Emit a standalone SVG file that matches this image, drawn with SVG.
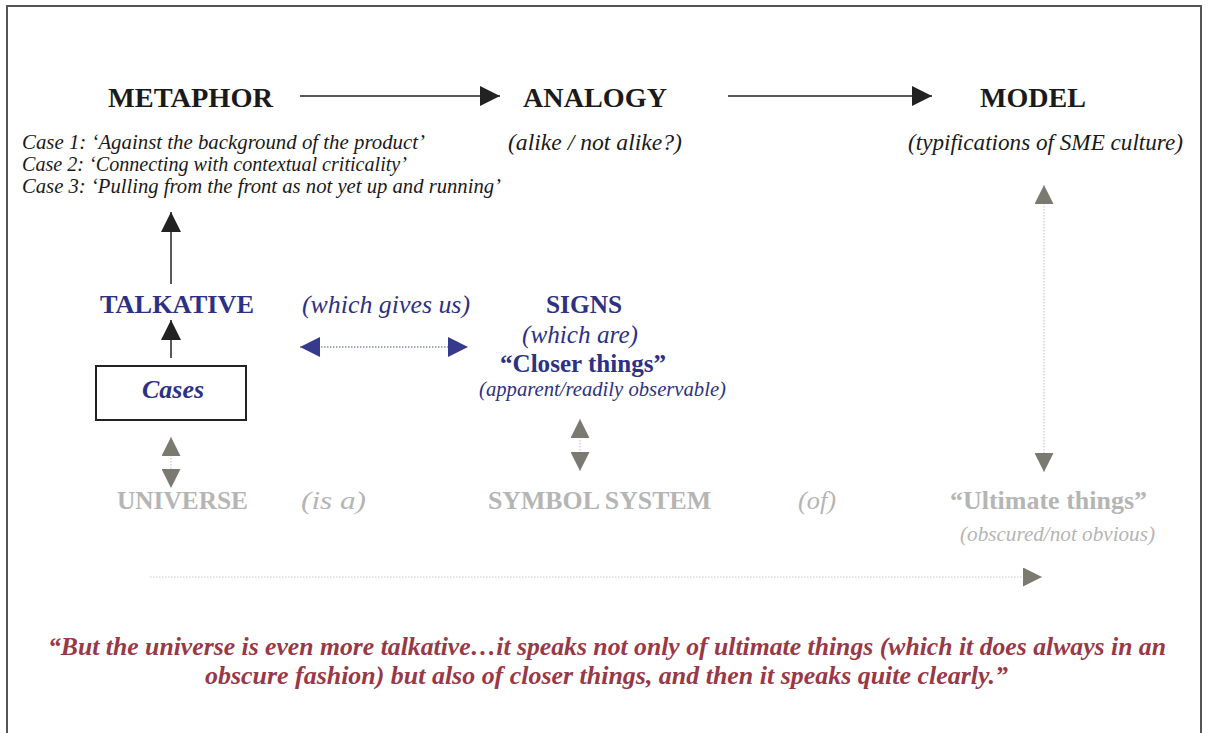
<svg xmlns="http://www.w3.org/2000/svg" width="1210" height="733" viewBox="0 0 1210 733">
  <style>
    text { font-family: "Liberation Serif", "Times New Roman", serif; }
    .head { font-size: 28px; font-weight: bold; fill: #1a1a1a; }
    .case { font-size: 21px; font-style: italic; fill: #1a1a1a; }
    .sub { font-size: 23px; font-style: italic; fill: #1a1a1a; }
    .navy { fill: #2d3184; }
    .nb { font-size: 26px; font-weight: bold; }
    .ni { font-size: 26px; font-style: italic; }
    .grey { fill: #b5b5b5; }
    .gb { font-size: 26px; font-weight: bold; }
    .gi { font-size: 25px; font-style: italic; }
    .quote { font-size: 26px; font-weight: bold; font-style: italic; fill: #983848; }
    .solid { stroke: #222; stroke-width: 1.5; fill: none; }
    .dotnavy { stroke: #4a4f9a; stroke-width: 1.2; stroke-dasharray: 1.5 1.5; fill: none; }
    .dotgrey { stroke: #c8c8c8; stroke-width: 1.2; stroke-dasharray: 1.5 1.5; fill: none; }
  </style>
  <defs>
    <marker id="ahDark" viewBox="0 0 10 10" refX="10" refY="5" markerWidth="20" markerHeight="20" markerUnits="userSpaceOnUse" orient="auto">
      <path d="M0,0 L10,5 L0,10 Z" fill="#222"/>
    </marker>
    <marker id="ahNavy" viewBox="0 0 10 10" refX="10" refY="5" markerWidth="20" markerHeight="20" markerUnits="userSpaceOnUse" orient="auto-start-reverse">
      <path d="M0,0 L10,5 L0,10 Z" fill="#353a8c"/>
    </marker>
    <marker id="ahGrey" viewBox="0 0 10 10" refX="10" refY="5" markerWidth="19" markerHeight="19" markerUnits="userSpaceOnUse" orient="auto-start-reverse">
      <path d="M0,0 L10,5 L0,10 Z" fill="#7a7a70"/>
    </marker>
  </defs>

  <rect x="0" y="0" width="1210" height="733" fill="#ffffff"/>
  <!-- outer frame, open at the bottom edge -->
  <rect x="7" y="6" width="1194" height="740" fill="none" stroke="#555" stroke-width="2"/>

  <g id="connectors">
    <line class="solid" x1="300" y1="96" x2="500" y2="96" marker-end="url(#ahDark)"/>
    <line class="solid" x1="728" y1="96" x2="932" y2="96" marker-end="url(#ahDark)"/>
    <line class="solid" x1="171" y1="284" x2="171" y2="212" stroke-width="1" marker-end="url(#ahDark)"/>
    <line class="solid" x1="171" y1="358" x2="171" y2="320" stroke-width="2" marker-end="url(#ahDark)"/>
    <line class="dotnavy" x1="300" y1="347" x2="468" y2="347" marker-start="url(#ahNavy)" marker-end="url(#ahNavy)"/>
    <line class="dotgrey" x1="171" y1="437" x2="171" y2="488" marker-start="url(#ahGrey)" marker-end="url(#ahGrey)"/>
    <line class="dotgrey" x1="580" y1="419" x2="580" y2="471" marker-start="url(#ahGrey)" marker-end="url(#ahGrey)"/>
    <line class="dotgrey" x1="1044" y1="185" x2="1044" y2="472" marker-start="url(#ahGrey)" marker-end="url(#ahGrey)"/>
    <line class="dotgrey" x1="150" y1="577" x2="1042" y2="577" marker-end="url(#ahGrey)"/>
  </g>

  <g id="metaphor">
    <text class="head" x="108" y="107" textLength="165" lengthAdjust="spacingAndGlyphs">METAPHOR</text>
    <text class="case" x="22" y="149" textLength="403" lengthAdjust="spacingAndGlyphs">Case 1:  ‘Against the background of the product’</text>
    <text class="case" x="22" y="171" textLength="385" lengthAdjust="spacingAndGlyphs">Case 2:  ‘Connecting with contextual criticality’</text>
    <text class="case" x="22" y="193" textLength="479" lengthAdjust="spacingAndGlyphs">Case 3:  ‘Pulling from the front as not yet up and running’</text>
  </g>

  <g id="analogy">
    <text class="head" x="523" y="107" textLength="144" lengthAdjust="spacingAndGlyphs">ANALOGY</text>
    <text class="sub" x="508" y="150" textLength="174" lengthAdjust="spacingAndGlyphs">(alike / not alike?)</text>
  </g>

  <g id="model">
    <text class="head" x="980" y="107" textLength="106" lengthAdjust="spacingAndGlyphs">MODEL</text>
    <text class="sub" x="908" y="150" textLength="275" lengthAdjust="spacingAndGlyphs">(typifications of SME culture)</text>
  </g>

  <g id="talkative">
    <text class="navy nb" x="100" y="313" textLength="154" lengthAdjust="spacingAndGlyphs">TALKATIVE</text>
  </g>

  <g id="gives">
    <text class="navy ni" x="302" y="313" textLength="168" lengthAdjust="spacingAndGlyphs">(which gives us)</text>
  </g>

  <g id="signs">
    <text class="navy nb" x="546" y="313" textLength="76" lengthAdjust="spacingAndGlyphs">SIGNS</text>
    <text class="navy ni" x="522" y="343" textLength="116" lengthAdjust="spacingAndGlyphs">(which are)</text>
    <text class="navy nb" x="500" y="372" textLength="166" lengthAdjust="spacingAndGlyphs">“Closer things”</text>
    <text class="navy" x="479" y="396" font-size="20" font-style="italic" textLength="247" lengthAdjust="spacingAndGlyphs">(apparent/readily observable)</text>
  </g>

  <g id="cases">
    <rect x="96" y="366" width="150" height="54" fill="#fff" stroke="#222" stroke-width="2"/>
    <text class="navy" x="142" y="398" font-size="26" font-weight="bold" font-style="italic" textLength="62" lengthAdjust="spacingAndGlyphs">Cases</text>
  </g>

  <g id="universe">
    <text class="grey gb" x="117" y="509" textLength="131" lengthAdjust="spacingAndGlyphs">UNIVERSE</text>
  </g>
  <g id="is-a">
    <text class="grey gi" x="301" y="509" textLength="65" lengthAdjust="spacingAndGlyphs">(is a)</text>
  </g>
  <g id="symbol-system">
    <text class="grey gb" x="488" y="509" textLength="223" lengthAdjust="spacingAndGlyphs">SYMBOL SYSTEM</text>
  </g>
  <g id="of">
    <text class="grey gi" x="798" y="509" textLength="38" lengthAdjust="spacingAndGlyphs">(of)</text>
  </g>
  <g id="ultimate">
    <text class="grey gb" x="950" y="509" textLength="197" lengthAdjust="spacingAndGlyphs">“Ultimate things”</text>
    <text class="grey" x="960" y="541" font-size="21" font-style="italic" textLength="195" lengthAdjust="spacingAndGlyphs">(obscured/not obvious)</text>
  </g>

  <g id="quote">
    <text class="quote" x="48" y="655" textLength="1118" lengthAdjust="spacingAndGlyphs">“But the universe is even more talkative…it speaks not only of ultimate things (which it does always in an</text>
    <text class="quote" x="205" y="684" textLength="803" lengthAdjust="spacingAndGlyphs">obscure fashion) but also of closer things, and then it speaks quite clearly.”</text>
  </g>
</svg>
